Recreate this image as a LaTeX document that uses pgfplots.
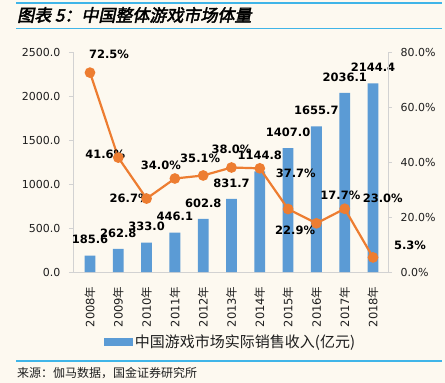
\documentclass[border=0pt]{standalone}
\usepackage{pgfplots}
\pgfplotsset{compat=1.18}
\usepackage{fontspec}
\setmainfont{DejaVu Sans}
\newfontfamily\cjk{Noto Sans CJK SC}
\newfontfamily\titlefont[FakeSlant=0.2,FakeBold=2.5]{Noto Sans CJK SC}
\definecolor{bg}{RGB}{253,249,240}
\definecolor{barblue}{RGB}{91,155,213}
\definecolor{lineorange}{RGB}{237,125,49}
\definecolor{rulecol}{RGB}{64,181,232}
\definecolor{axisgray}{RGB}{210,210,210}
\definecolor{txt}{RGB}{30,30,30}
\newcommand{\nian}{{\cjk 年}}
\begin{document}
\begin{tikzpicture}
\path[use as bounding box, fill=bg] (0bp,0bp) rectangle (445bp,-383bp);
\draw[rulecol, line width=1.2bp] (16bp,-3bp) -- (442bp,-3bp);
\draw[rulecol, line width=1.4bp] (16bp,-28.3bp) -- (442bp,-28.3bp);
\draw[rulecol, line width=1.4bp] (16bp,-361bp) -- (442bp,-361bp);
\node[anchor=west, inner sep=0pt, font=\titlefont\fontsize{17bp}{19bp}\selectfont] at (17bp,-15bp) {图表 5：中国整体游戏市场体量};
\node[anchor=west, inner sep=0pt, font=\cjk\fontsize{12bp}{14bp}\selectfont, text=txt] at (17bp,-373bp) {来源：伽马数据，国金证券研究所};

\begin{axis}[
  at={(73bp,-272bp)}, anchor=south west, scale only axis,
  width=315bp, height=220bp,
  xmin=-0.6, xmax=10.53, ymin=0, ymax=2500,
  axis x line*=bottom, axis y line*=left,
  axis line style={draw=axisgray, line width=0.8bp, -},
  xtick={0,...,10},
  xticklabels={2008\nian,2009\nian,2010\nian,2011\nian,2012\nian,2013\nian,2014\nian,2015\nian,2016\nian,2017\nian,2018\nian},
  xtick style={draw=none},
  xticklabel style={rotate=90, anchor=east, font=\fontsize{11.5bp}{13bp}\selectfont, text=txt},
  xticklabel shift=7bp,
  ytick={0,500,...,2500},
  ytick style={draw=axisgray, line width=0.8bp},
  tick align=outside, major tick length=4bp,
  yticklabel shift=5bp,
  yticklabel style={font=\fontsize{11bp}{13bp}\selectfont, text=txt, /pgf/number format/.cd, fixed, fixed zerofill, precision=1, 1000 sep={}, assume math mode=true},
  ybar, bar width=10.8bp,
  nodes near coords={\pgfmathprintnumber[fixed,fixed zerofill,precision=1,1000 sep={},assume math mode=true]{\pgfplotspointmeta}},
  every node near coord/.append style={anchor=center, yshift=16bp, font=\bfseries\fontsize{11.5bp}{13bp}\selectfont, text=black},
  legend style={at={(0.5,-0.318)}, anchor=center, draw=none, fill=none, font=\cjk\fontsize{15bp}{17bp}\selectfont, text=txt, inner sep=0pt},
  legend image code/.code={\fill[barblue] (0bp,-4bp) rectangle (29bp,4bp);},
  clip=false,
]
\addplot[fill=barblue, draw=none] coordinates {(0,185.6) (1,262.8) (2,333.0) (3,446.1) (4,602.8) (5,831.7) (6,1144.8) (7,1407.0) (8,1655.7) (9,2036.1) (10,2144.4)};
\addlegendentry{中国游戏市场实际销售收入(亿元)}
\end{axis}

\begin{axis}[
  at={(73bp,-272bp)}, anchor=south west, scale only axis,
  width=315bp, height=220bp,
  xmin=-0.6, xmax=10.53, ymin=0, ymax=80,
  axis x line=none, axis y line*=right,
  axis line style={draw=axisgray, line width=0.8bp, -},
  ytick={0,20,...,80},
  ytick style={draw=axisgray, line width=0.8bp},
  tick align=outside, major tick length=4bp,
  yticklabel shift=5bp,
  yticklabel={\pgfmathprintnumber[fixed,fixed zerofill,precision=1,assume math mode=true]{\tick}\%},
  yticklabel style={font=\fontsize{11bp}{13bp}\selectfont, text=txt},
  clip=false,
]
\addplot[lineorange, line width=2.2bp, mark=*, mark size=4.2bp, mark options={solid, fill=lineorange, draw=none}] coordinates {(0,72.5) (1,41.6) (2,26.7) (3,34.0) (4,35.1) (5,38.0) (6,37.7) (7,22.9) (8,17.7) (9,23.0) (10,5.3)};
\begin{scope}[every node/.style={font=\bfseries\fontsize{11.5bp}{13bp}\selectfont, text=black, inner sep=0pt}]
\node[xshift=19bp, yshift=18bp] at (axis cs:0,72.5) {72.5\%};
\node[xshift=-13bp, yshift=3.6bp] at (axis cs:1,41.6) {41.6\%};
\node[xshift=-17bp, yshift=0bp] at (axis cs:2,26.7) {26.7\%};
\node[xshift=-14bp, yshift=13bp] at (axis cs:3,34.0) {34.0\%};
\node[xshift=-3bp, yshift=17bp] at (axis cs:4,35.1) {35.1\%};
\node[xshift=0bp, yshift=18bp] at (axis cs:5,38.0) {38.0\%};
\node[xshift=36bp, yshift=-5bp] at (axis cs:6,37.7) {37.7\%};
\node[xshift=7bp, yshift=-21bp] at (axis cs:7,22.9) {22.9\%};
\node[xshift=24bp, yshift=28bp] at (axis cs:8,17.7) {17.7\%};
\node[xshift=38bp, yshift=10bp] at (axis cs:9,23.0) {23.0\%};
\node[xshift=37bp, yshift=12bp] at (axis cs:10,5.3) {5.3\%};
\end{scope}
\end{axis}
\end{tikzpicture}
\end{document}
